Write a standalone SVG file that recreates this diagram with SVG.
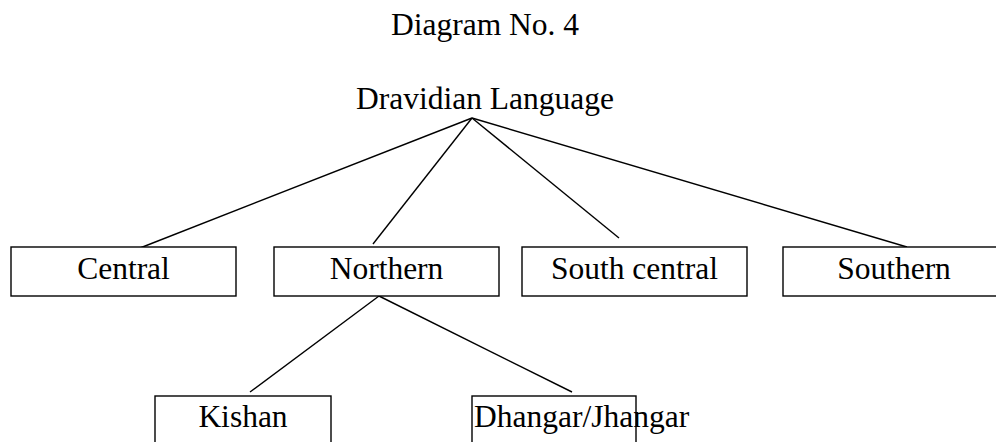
<svg xmlns="http://www.w3.org/2000/svg" width="996" height="442" viewBox="0 0 996 442">
<style>
text{font-family:"Liberation Serif","Times New Roman",serif;font-size:31.5px;fill:#000;text-anchor:middle}
rect{fill:#fff;stroke:#000;stroke-width:1.4}
.c line{stroke:#000;stroke-width:1.4}
</style>
<rect x="0" y="0" width="996" height="442" style="stroke:none"/>
<g id="title"><text x="485" y="35">Diagram No. 4</text></g>
<g id="root"><text x="485" y="109">Dravidian Language</text></g>
<g class="c" id="connectors">
<line x1="472" y1="118" x2="140" y2="248"/>
<line x1="472" y1="118" x2="373" y2="244"/>
<line x1="472" y1="118" x2="619" y2="238"/>
<line x1="472" y1="118" x2="907" y2="247"/>
<line x1="379" y1="296" x2="250" y2="392"/>
<line x1="379" y1="296" x2="572" y2="392"/>
</g>
<g id="central"><rect x="11" y="247" width="225" height="49"/><text x="123.5" y="279">Central</text></g>
<g id="northern"><rect x="274" y="247" width="225" height="49"/><text x="386.5" y="279">Northern</text></g>
<g id="southcentral"><rect x="522" y="247" width="225" height="49"/><text x="634.5" y="279">South central</text></g>
<g id="southern"><rect x="783" y="247" width="222" height="49"/><text x="894" y="279">Southern</text></g>
<g id="kishan"><rect x="155" y="396" width="176" height="60"/><text x="243" y="427">Kishan</text></g>
<g id="dhangar"><rect x="472" y="396" width="164" height="60"/><text x="474" y="427" style="text-anchor:start">Dhangar/Jhangar</text></g>
</svg>
